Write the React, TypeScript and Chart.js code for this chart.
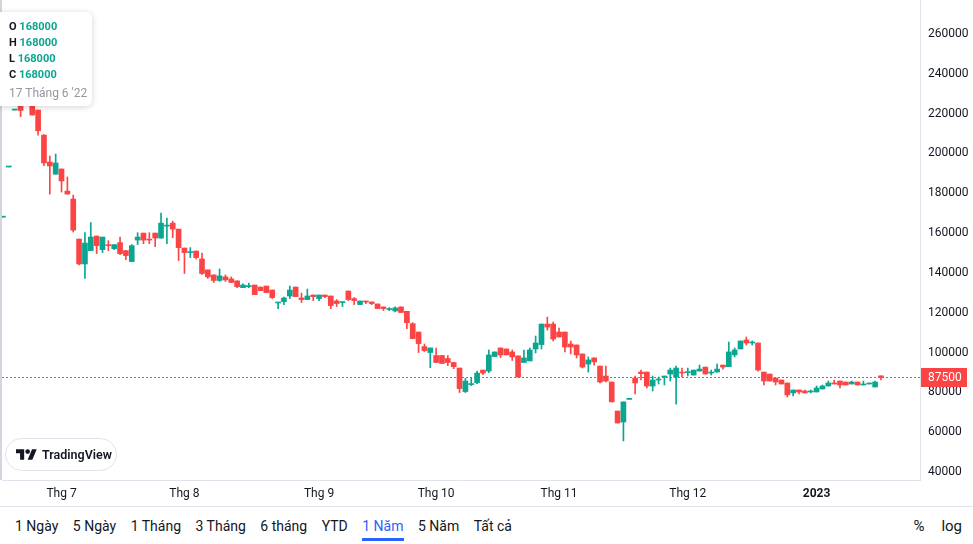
import React, { useEffect, useRef } from "react";
import { Chart, registerables } from "chart.js";

Chart.register(...registerables);

// ---- Data (daily OHLC, 17 Jun 2022 -> mid Jan 2023) ----
const opens = [
  168000, 193200, 221800, 223800, 226500, 227800, 221800, 209200, 195700, 189600,
  192200, 181100, 177100, 157000, 144500, 151200, 158500, 151700, 154000, 152200,
  155200, 151200, 145700, 156500, 160000, 157000, 160000, 157500, 163500, 165000,
  162000, 152500, 150200, 151000, 147000, 141500, 139000, 136200, 138000, 137000,
  136000, 132600, 133100, 133900, 132900, 133400, 131400, 124900, 125600, 128400,
  132900, 127400, 126600, 128900, 127100, 128900, 128400, 125900, 125100, 130900,
  127100, 124100, 125900, 125400, 124400, 122900, 121600, 120900, 122900, 120700,
  114500, 110300, 103000, 100000, 98500, 98500, 97000, 95000, 92200, 80400,
  83900, 84900, 91200, 90700, 98000, 102300, 101800, 100300, 98300, 95000,
  95800, 101800, 104000, 114300, 114300, 110300, 110300, 104300, 103800, 99300,
  94200, 97300, 93200, 88200, 85200, 70600, 65100, 76500, 87200, 90200,
  90200, 83200, 86200, 87700, 89200, 87700, 90200, 89900, 88700, 90700,
  92700, 89700, 90200, 93700, 92900, 98800, 101800, 106300, 104800, 104800,
  90200, 89200, 87200, 86200, 84700, 79700, 81200, 80700, 80200, 80200,
  81700, 83200, 84700, 85700, 85200, 84200, 85200, 83700, 84200, 82700,
  88300,
];
const highs = [
  168000, 193200, 221800, 224800, 233000, 228800, 221800, 209500, 198700, 199700,
  192200, 188200, 179100, 157000, 160200, 165300, 158500, 158000, 156200, 154200,
  158000, 151200, 154200, 160200, 160000, 160200, 160000, 170000, 167500, 166000,
  162000, 152500, 152700, 151000, 150000, 141500, 139000, 142000, 139000, 138000,
  136000, 134500, 134900, 133900, 132900, 133400, 131400, 125200, 127900, 133400,
  132900, 129900, 131900, 128900, 128900, 128900, 128400, 126600, 125400, 130900,
  127600, 125900, 125900, 125400, 124400, 122900, 122600, 122900, 122900, 120700,
  115000, 110300, 104300, 102300, 102300, 98500, 98500, 95000, 92200, 87000,
  87200, 90700, 91200, 101300, 100300, 102300, 101800, 101300, 98300, 101300,
  102300, 108300, 114300, 117800, 115300, 112300, 110300, 105800, 103800, 99300,
  97800, 97300, 93200, 93200, 85200, 70600, 75200, 76500, 88200, 91200,
  90200, 88200, 87700, 88200, 92200, 93200, 92200, 92200, 91200, 93700,
  92700, 91200, 94200, 93700, 105300, 102300, 105800, 107800, 105800, 104800,
  90200, 89200, 87200, 86200, 84700, 81200, 81200, 81200, 81200, 83200,
  83700, 85700, 86200, 85700, 85200, 85700, 85200, 85700, 84700, 85700,
  88300,
];
const lows = [
  168000, 193200, 221800, 218500, 226000, 219300, 209200, 193900, 179600, 189600,
  180600, 179600, 160500, 144000, 137200, 151200, 149700, 150200, 151200, 151700,
  149200, 146700, 145700, 154200, 154700, 154700, 153200, 157500, 154700, 157700,
  146200, 139700, 147700, 147000, 139200, 137200, 135200, 135700, 135700, 135200,
  132600, 132600, 132600, 129100, 131100, 130100, 127100, 122100, 124100, 127100,
  128100, 125100, 126600, 126100, 126100, 127600, 122100, 123100, 123100, 126100,
  124100, 124100, 124600, 124100, 122100, 121100, 121100, 120400, 120100, 112000,
  107000, 100000, 100500, 92400, 95000, 94500, 93400, 91900, 79900, 79900,
  83400, 84400, 88900, 89900, 98000, 97500, 98800, 96000, 87700, 95000,
  95800, 99800, 101800, 111300, 105800, 107800, 100300, 99300, 97300, 92200,
  90200, 93700, 84700, 85200, 75200, 64600, 55600, 76500, 79200, 86200,
  82200, 80700, 84200, 83700, 85700, 74100, 87700, 88200, 88700, 90700,
  89200, 88700, 90200, 91700, 92900, 97800, 101800, 103800, 103800, 90700,
  83700, 85700, 83700, 84200, 77700, 78200, 79200, 79700, 79700, 80200,
  81700, 83200, 84200, 82200, 83700, 84200, 83700, 83700, 84200, 82700,
  86300,
];
const closes = [
  168000, 193200, 221800, 221600, 230000, 219300, 211400, 195200, 193700, 195200,
  186200, 179600, 161500, 144500, 155000, 158000, 153700, 158000, 153700, 154200,
  149700, 148700, 153700, 158000, 156500, 156500, 157500, 165000, 164000, 162000,
  152700, 150200, 150500, 147700, 139700, 138000, 136200, 138500, 136500, 135200,
  133100, 133900, 133400, 129100, 131100, 130100, 127600, 125200, 127400, 131400,
  128100, 126600, 128400, 128100, 128900, 128100, 123600, 124600, 125400, 126600,
  126100, 125900, 125400, 124600, 122100, 122100, 121900, 122400, 120100, 115000,
  107000, 104500, 101000, 102300, 95000, 94500, 95000, 92900, 81900, 85700,
  84000, 89700, 89700, 98800, 100300, 98800, 98800, 97800, 87700, 97300,
  101300, 104800, 114300, 112800, 106800, 107800, 102800, 102800, 98800, 92700,
  96300, 95300, 85200, 85700, 75200, 64600, 75200, 76500, 84700, 89400,
  83200, 86200, 86700, 88200, 91200, 92200, 89700, 90200, 91200, 91700,
  89200, 90200, 91700, 92700, 100300, 101300, 105800, 104800, 105300, 91200,
  85700, 85700, 85200, 84200, 78700, 81200, 80200, 79700, 80700, 82200,
  83200, 84700, 84200, 83700, 83700, 85200, 83700, 84200, 84700, 85200,
  87500,
];

const monthTickIndex = [10, 31, 54, 74, 95, 117, 139];
const monthTickLabels = ["Thg 7", "Thg 8", "Thg 9", "Thg 10", "Thg 11", "Thg 12", "2023"];
const priceTicks = [40000, 60000, 80000, 100000, 120000, 140000, 160000, 180000, 200000, 220000, 240000, 260000];
const lastPrice = 87500;
const tooltipLetters = ["O", "H", "L", "C"];
const tooltipDate = "17 Tháng 6 '22";
const rangeButtons = ["1 Ngày", "5 Ngày", "1 Tháng", "3 Tháng", "6 tháng", "YTD", "1 Năm", "5 Năm", "Tất cả"];
const activeRange = "1 Năm";
const rightButtons = ["%", "log"];

const UP = "#0aa692";
const DOWN = "#fd4444";
const TEXT = "#131722";
const LINE = "#e0e3eb";
const FONT = "Roboto, 'Liberation Sans', sans-serif";

export default function App() {
  const ref = useRef<HTMLCanvasElement>(null);

  useEffect(() => {
    document.body.style.margin = "0";
    const colors = opens.map((o, i) => (closes[i] >= o ? UP : DOWN));
    const bodies = opens.map((o, i) => ({ x: i, y: [o, closes[i]] }));
    const wicks = opens.map((_, i) => ({ x: i, y: [lows[i], highs[i]] }));

    const priceLine = {
      id: "priceLine",
      beforeDatasetsDraw(chart: any) {
        const { ctx, chartArea } = chart;
        const y = Math.round(chart.scales.y.getPixelForValue(lastPrice)) + 0.5;
        ctx.save();
        ctx.strokeStyle = DOWN;
        ctx.lineWidth = 1;
        ctx.setLineDash([2, 2]);
        ctx.beginPath();
        ctx.moveTo(chartArea.left, y);
        ctx.lineTo(chartArea.right, y);
        ctx.stroke();
        ctx.restore();
      },
      afterDraw(chart: any) {
        const { ctx, chartArea } = chart;
        const y = Math.round(chart.scales.y.getPixelForValue(lastPrice));
        ctx.save();
        ctx.fillStyle = DOWN;
        ctx.fillRect(chartArea.right + 1, y - 9, 46, 19);
        ctx.fillStyle = "#ffffff";
        ctx.font = `12px ${FONT}`;
        ctx.textAlign = "left";
        ctx.textBaseline = "middle";
        ctx.fillText(String(lastPrice), chartArea.right + 8, y + 1);
        ctx.restore();
      },
    };

    const chart = new Chart(ref.current as HTMLCanvasElement, {
      type: "bar",
      data: {
        datasets: [
          {
            data: bodies as any,
            backgroundColor: colors,
            barThickness: 5,
            minBarLength: 1,
            grouped: false,
            order: 0,
          },
          {
            data: wicks as any,
            backgroundColor: colors,
            barThickness: 1,
            grouped: false,
            order: 1,
          },
        ],
      },
      options: {
        responsive: false,
        maintainAspectRatio: false,
        animation: false,
        layout: { padding: { left: 2, top: 0, right: 0, bottom: 0 } },
        plugins: { legend: { display: false }, tooltip: { enabled: false } },
        scales: {
          x: {
            type: "linear",
            min: -0.17,
            max: 156.67,
            offset: false,
            grid: { display: false, drawTicks: false },
            border: { display: true, color: LINE },
            afterBuildTicks: (s: any) => {
              s.ticks = monthTickIndex.map((v) => ({ value: v }));
            },
            afterFit: (s: any) => {
              s.height = 27;
              s.paddingLeft = 0;
              s.paddingRight = 0;
            },
            ticks: {
              autoSkip: false,
              maxRotation: 0,
              padding: 7,
              color: TEXT,
              font: (c: any) => ({
                family: FONT,
                size: 12,
                weight: c.index === monthTickLabels.length - 1 ? "bold" : "normal",
              }),
              callback: (v: any) => {
                const k = monthTickIndex.indexOf(Number(v));
                return k >= 0 ? monthTickLabels[k] : "";
              },
            },
          },
          y: {
            position: "right",
            min: 35980,
            max: 277080,
            grid: { display: false, drawTicks: false },
            border: { display: true, color: LINE },
            afterBuildTicks: (s: any) => {
              s.ticks = priceTicks.map((v) => ({ value: v }));
            },
            afterFit: (s: any) => {
              s.width = 53;
              s.paddingTop = 0;
              s.paddingBottom = 0;
            },
            ticks: {
              padding: 8,
              color: TEXT,
              font: { family: FONT, size: 12 },
              callback: (v: any) => String(v),
            },
          },
        },
      } as any,
      plugins: [priceLine],
    });
    return () => chart.destroy();
  }, []);

  const tooltipValues = [opens[0], highs[0], lows[0], closes[0]];

  return (
    <div
      style={{
        position: "fixed",
        left: 0,
        top: 0,
        width: 973,
        height: 544,
        background: "#fff",
        overflow: "hidden",
        fontFamily: FONT,
        color: TEXT,
      }}
    >
      <canvas ref={ref} width={973} height={507} style={{ position: "absolute", left: 0, top: 0, width: 973, height: 507 }} />
      <div style={{ position: "absolute", left: 0, top: 0, width: 2, height: 480, background: "#d3d6de" }} />

      {/* OHLC legend box */}
      <div
        style={{
          position: "absolute",
          left: -6,
          top: 12,
          width: 98,
          height: 94,
          background: "#fff",
          borderRadius: 6,
          boxShadow: "0 1px 6px rgba(0,0,0,0.18)",
        }}
      >
        {tooltipLetters.map((l, i) => (
          <div
            key={l}
            style={{
              position: "absolute",
              left: 15,
              top: 7 + 16 * i,
              height: 16,
              lineHeight: "16px",
              fontSize: 11,
              fontWeight: 700,
              whiteSpace: "nowrap",
            }}
          >
            <span style={{ color: TEXT }}>{l}</span> <span style={{ color: UP }}>{tooltipValues[i]}</span>
          </div>
        ))}
        <div
          style={{
            position: "absolute",
            left: 15,
            top: 73,
            height: 16,
            lineHeight: "16px",
            fontSize: 12,
            color: "#9598a1",
            whiteSpace: "nowrap",
          }}
        >
          {tooltipDate}
        </div>
      </div>

      {/* TradingView badge */}
      <div
        style={{
          position: "absolute",
          left: 5,
          top: 438,
          width: 112,
          height: 33,
          boxSizing: "border-box",
          border: `1px solid ${LINE}`,
          borderRadius: 17,
          background: "#fff",
        }}
      >
        <svg width="21" height="11" viewBox="0 4 36 18" style={{ position: "absolute", left: 10, top: 10 }}>
          <path d="M14 22H7V11H0V4h14v18zM28 22h-8l7.5-18h8L28 22z" fill={TEXT} />
          <circle cx="20" cy="8" r="4" fill={TEXT} />
        </svg>
        <div
          style={{
            position: "absolute",
            left: 36,
            top: 0,
            lineHeight: "31px",
            fontSize: 12.5,
            fontWeight: 600,
            color: TEXT,
            whiteSpace: "nowrap",
          }}
        >
          TradingView
        </div>
      </div>

      {/* bottom toolbar */}
      <div style={{ position: "absolute", left: 0, top: 506, width: 973, height: 1, background: LINE }} />
      <div
        style={{
          position: "absolute",
          left: 15,
          top: 514,
          height: 24,
          display: "flex",
          gap: 14.5,
          fontSize: 14,
          lineHeight: "24px",
          whiteSpace: "nowrap",
        }}
      >
        {rangeButtons.map((b) => (
          <div key={b} style={{ position: "relative", color: b === activeRange ? "#2962ff" : TEXT }}>
            {b}
            {b === activeRange && (
              <div style={{ position: "absolute", left: 0, right: 0, top: 24, height: 3, background: "#2962ff" }} />
            )}
          </div>
        ))}
      </div>
      <div
        style={{
          position: "absolute",
          right: 11,
          top: 514,
          height: 24,
          display: "flex",
          gap: 17,
          fontSize: 15,
          lineHeight: "24px",
        }}
      >
        {rightButtons.map((b) => (
          <div key={b}>{b}</div>
        ))}
      </div>
    </div>
  );
}
